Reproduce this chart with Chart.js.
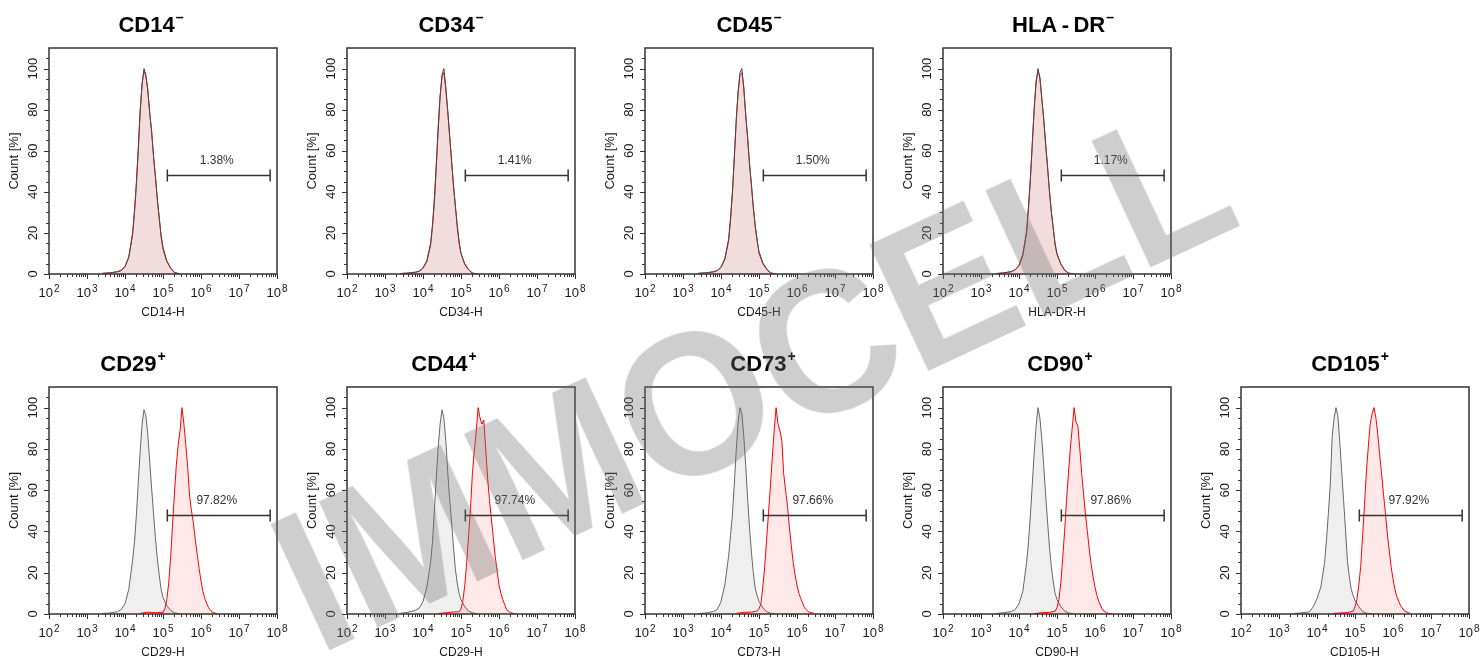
<!DOCTYPE html>
<html>
<head>
<meta charset="utf-8">
<script src="https://cdn.jsdelivr.net/npm/chart.js@4.4.0/dist/chart.umd.min.js"></script>
<style>
  html, body { margin: 0; padding: 0; background: #fff; }
  #wrap { position: relative; width: 1484px; height: 662px; overflow: hidden; }
  #wrap canvas { position: absolute; }
  #mark {
    position: absolute; left: 752px; top: 376px; z-index: 5;
    font: bold 202px "Liberation Sans", Arial, sans-serif; line-height: 1;
    color: rgba(110, 110, 110, 0.34); white-space: nowrap; pointer-events: none;
    transform: translate(-50%, -50%) rotate(-25deg) scaleX(0.95);
  }
</style>
</head>
<body>
<div id="wrap">
  <div id="mark">IMMOCELL</div>
</div>
<script>
// panel texts
var markerNames = ['CD14', 'CD34', 'CD45', 'HLA\u2009-\u2009DR', 'CD29', 'CD44', 'CD73', 'CD90', 'CD105'];
var markerSigns = ['\u2013', '\u2013', '\u2013', '\u2013', '+', '+', '+', '+', '+'];
var channelNames = ['CD14-H', 'CD34-H', 'CD45-H', 'HLA-DR-H', 'CD29-H', 'CD29-H', 'CD73-H', 'CD90-H', 'CD105-H'];
var gatePercents = ['1.38%', '1.41%', '1.50%', '1.17%', '97.82%', '97.74%', '97.66%', '97.86%', '97.92%'];

// gate marker (channel values) and its height in Count [%]
var gateFrom = 1.3e5, gateTo = 6.6e7, gateLevel = 48;

// tick labels
var xTickExponents = [2, 3, 4, 5, 6, 7, 8];
var yTickLabels = [0, 20, 40, 60, 80, 100];

// histogram bin positions, in decades (log10 of the channel)
var negDecades = [3.4, 3.6, 3.8, 3.9, 4.0, 4.1, 4.2, 4.25, 4.3, 4.35, 4.4, 4.45, 4.5, 4.55, 4.6, 4.65, 4.7, 4.75, 4.8, 4.85, 4.9, 4.95, 5.0, 5.1, 5.2, 5.3, 5.45];
var posDecades = [4.4, 4.6, 4.8, 4.95, 5.0, 5.05, 5.1, 5.15, 5.2, 5.25, 5.3, 5.35, 5.4, 5.45, 5.5, 5.55, 5.6, 5.65, 5.7, 5.75, 5.8, 5.85, 5.9, 5.95, 6.0, 6.05, 6.1, 6.2, 6.3, 6.45];

// control (gray) and stained (red) histograms, Count [%]
var ctlCD14 = [0.3, 0.6, 1.0, 1.6, 3.5, 8, 19, 30, 43, 60, 79, 92, 100, 97, 89, 79, 69, 58, 47, 37, 27, 19, 13, 6.5, 3, 0.8, 0];
var smpCD14 = [0.3, 0.5, 1.2, 1.8, 3.8, 8.5, 20, 31, 45, 62, 80, 93, 99, 96, 90, 78, 70, 57, 48, 36, 28, 18, 12, 6, 2.8, 0.6, 0];
var ctlCD34 = [0.2, 0.5, 0.8, 1.3, 2.8, 6, 14, 23, 35, 52, 70, 86, 97, 100, 91, 80, 68, 55, 44, 33, 24, 16, 10, 5, 2.2, 0.5, 0];
var smpCD34 = [0.2, 0.4, 0.9, 1.4, 3, 6.5, 15, 24, 37, 54, 72, 87, 96, 98, 90, 79, 67, 56, 43, 34, 23, 15, 10, 4.5, 2, 0.4, 0];
var ctlCD45 = [0.3, 0.6, 1, 1.6, 3.2, 7, 16, 26, 39, 56, 74, 89, 98, 100, 90, 78, 66, 54, 43, 33, 24, 16, 11, 5.5, 2.5, 0.6, 0];
var smpCD45 = [0.3, 0.5, 1.1, 1.7, 3.4, 7.5, 17, 27, 40, 57, 75, 88, 97, 98, 91, 77, 67, 53, 44, 32, 23, 17, 10, 5, 2.3, 0.5, 0];
var ctlHLA = [0.2, 0.5, 1.2, 2, 4, 9, 20, 32, 46, 63, 80, 93, 100, 95, 86, 75, 64, 52, 41, 31, 22, 15, 10, 5, 2, 0.5, 0];
var smpHLA = [0.2, 0.6, 1.1, 2.1, 4.2, 9.5, 21, 33, 47, 64, 81, 94, 99, 96, 85, 76, 63, 53, 40, 30, 23, 14, 9.5, 4.8, 1.8, 0.4, 0];

var ctlCD29 = [0.2, 0.5, 1.1, 2.2, 5, 12, 26, 35, 48, 64, 79, 92, 99, 96, 87, 74, 61, 49, 37, 27, 19, 12, 8, 4, 1.8, 0.6, 0];
var smpCD29 = [0.3, 0.9, 0.6, 0.8, 0.8, 2.5, 7, 15, 27, 43, 58, 72, 82, 89, 100, 92, 82, 71, 57, 50, 44, 36, 29, 22, 16, 11, 7.5, 3, 0.8, 0];
var ctlCD44 = [0.3, 0.8, 1.8, 2.8, 6, 13, 25, 35, 50, 66, 81, 92, 99, 95, 84, 69, 56, 45, 33, 22, 15, 10, 7, 3.5, 1.4, 0.6, 0];
var smpCD44 = [0.2, 0.6, 1, 1.1, 2.5, 6.5, 14, 25, 38, 51, 68, 79, 88, 100, 95, 92, 94, 80, 66, 55, 46, 37, 28, 21, 14, 10, 7, 2, 0.7, 0];
var ctlCD73 = [0.2, 0.5, 1.2, 2.1, 6, 14, 28, 38, 48, 63, 79, 93, 100, 97, 86, 72, 56, 42, 30, 20, 12.5, 9, 6, 3, 1.1, 0.4, 0];
var smpCD73 = [0.3, 0.8, 0.9, 1.5, 2.5, 5, 13, 23, 36, 49, 62, 76, 89, 100, 92, 89, 84, 68, 60, 52, 42, 33, 25, 19, 14, 10, 7.5, 3, 1, 0.3];
var ctlCD90 = [0.2, 0.6, 1.2, 2.2, 5, 11, 25, 35, 48, 63, 78, 91, 100, 95, 85, 72, 58, 45, 33, 23, 16, 10, 7, 3.5, 1.5, 0.5, 0];
var smpCD90 = [0.2, 0.6, 0.8, 1.4, 3, 7, 15, 27, 40, 55, 68, 80, 90, 100, 93, 91, 80, 68, 58, 48, 40, 31, 24, 18, 13, 9, 6, 2, 0.6, 0];
var ctlCD105 = [0.2, 0.6, 1, 3.5, 7.5, 13, 25, 36, 49, 63, 86, 95, 100, 96, 83, 69, 55, 41, 26, 18, 12, 9, 6.5, 3.5, 1.2, 0.4, 0];
var smpCD105 = [0.2, 0.5, 0.7, 1.4, 3.5, 7, 14, 23, 38, 53, 69, 81, 92, 97, 100, 95, 87, 77, 68, 58, 49, 39, 31, 23, 17, 12, 8.5, 4, 1.5, 0.3];

var controlSeries = [ctlCD14, ctlCD34, ctlCD45, ctlHLA, ctlCD29, ctlCD44, ctlCD73, ctlCD90, ctlCD105];
var sampleSeries = [smpCD14, smpCD34, smpCD45, smpHLA, smpCD29, smpCD44, smpCD73, smpCD90, smpCD105];

// layout: title centre shift from plot centre, px
var titleShift = [-12, -10, -10, 6, -30, -17, 4, 3, -5];

var FONT = '"Liberation Sans", Arial, sans-serif';

function toPoints(decades, counts) {
    return counts.map(function (c, i) { return { x: Math.pow(10, decades[i]), y: c }; });
}

var flowDecor = {
    id: 'flowDecor',
    afterDatasetsDraw: function (chart, args, o) {
        var ctx = chart.ctx, a = chart.chartArea;
        var xs = chart.scales.x, ys = chart.scales.y;
        ctx.save();

        // gate
        var gy = Math.round(ys.getPixelForValue(gateLevel)) + 0.5;
        var g1 = xs.getPixelForValue(gateFrom), g2 = xs.getPixelForValue(gateTo);
        ctx.strokeStyle = '#333'; ctx.lineWidth = 1.5;
        ctx.beginPath();
        ctx.moveTo(g1, gy); ctx.lineTo(g2, gy);
        ctx.moveTo(g1, gy - 6); ctx.lineTo(g1, gy + 6);
        ctx.moveTo(g2, gy - 6); ctx.lineTo(g2, gy + 6);
        ctx.stroke();
        ctx.fillStyle = '#333'; ctx.font = '12px ' + FONT;
        ctx.textAlign = 'center'; ctx.textBaseline = 'alphabetic';
        ctx.fillText(o.pct, (g1 + g2) / 2 - 2, gy - 12);

        // frame
        ctx.strokeStyle = '#333'; ctx.lineWidth = 1.5;
        ctx.strokeRect(a.left, a.top, a.right - a.left, a.bottom - a.top);

        // y ticks
        ctx.lineWidth = 1;
        for (var v = 0; v <= 105; v += 5) {
            var y = Math.round(ys.getPixelForValue(v)) + 0.5;
            var len = v % 20 === 0 ? 5 : 3;
            ctx.beginPath(); ctx.moveTo(a.left - len, y); ctx.lineTo(a.left, y); ctx.stroke();
        }
        // x ticks
        for (var d = 2; d <= 8; d++) {
            for (var m = 1; m <= 9; m++) {
                if (d === 8 && m > 1) break;
                var x = Math.round(xs.getPixelForValue(m * Math.pow(10, d))) + 0.5;
                var l = m === 1 ? 5 : 3;
                ctx.beginPath(); ctx.moveTo(x, a.bottom); ctx.lineTo(x, a.bottom + l); ctx.stroke();
            }
        }

        // y tick labels
        ctx.fillStyle = '#1a1a1a';
        ctx.font = '13px ' + FONT;
        yTickLabels.forEach(function (t) {
            ctx.save();
            ctx.translate(a.left - 16, ys.getPixelForValue(t));
            ctx.rotate(-Math.PI / 2);
            ctx.textAlign = 'center'; ctx.textBaseline = 'middle';
            ctx.fillText(String(t), 0, 0);
            ctx.restore();
        });

        // x tick labels 10^n
        ctx.textAlign = 'left'; ctx.textBaseline = 'alphabetic';
        xTickExponents.forEach(function (e) {
            var px = xs.getPixelForValue(Math.pow(10, e));
            ctx.font = '13px ' + FONT;
            var w1 = ctx.measureText('10').width;
            ctx.font = '10px ' + FONT;
            var w2 = ctx.measureText(String(e)).width;
            var sx = px - (w1 + w2 + 1) / 2;
            ctx.font = '13px ' + FONT;
            ctx.fillText('10', sx, a.bottom + 23);
            ctx.font = '10px ' + FONT;
            ctx.fillText(String(e), sx + w1 + 1, a.bottom + 18);
        });

        // axis titles
        ctx.font = '12px ' + FONT;
        ctx.textAlign = 'center';
        ctx.fillText(o.channel, (a.left + a.right) / 2, a.bottom + 42);
        ctx.save();
        ctx.translate(a.left - 35, (a.top + a.bottom) / 2);
        ctx.rotate(-Math.PI / 2);
        ctx.font = '13px ' + FONT;
        ctx.textBaseline = 'middle';
        ctx.fillText('Count [%]', 0, 0);
        ctx.restore();

        // panel title
        ctx.fillStyle = '#000';
        ctx.font = 'bold 22px ' + FONT;
        var tw = ctx.measureText(o.title).width;
        ctx.font = 'bold 14px ' + FONT;
        var sw = ctx.measureText(o.sign).width;
        var tx = (a.left + a.right) / 2 + o.shift - (tw + 1 + sw) / 2;
        var base = a.top - 16;
        ctx.textAlign = 'left';
        ctx.font = 'bold 22px ' + FONT;
        ctx.textBaseline = 'alphabetic';
        ctx.fillText(o.title, tx, base);
        ctx.font = 'bold 14px ' + FONT;
        ctx.textBaseline = 'middle';
        ctx.fillText(o.sign, tx + tw + 1, base - 14);

        ctx.restore();
    }
};

var wrap = document.getElementById('wrap');
var mark = document.getElementById('mark');

for (var i = 0; i < 9; i++) {
    var row = i < 4 ? 0 : 1;
    var col = row === 0 ? i : i - 4;
    var canvas = document.createElement('canvas');
    canvas.width = 292; canvas.height = 331;
    canvas.style.left = (298 * col) + 'px';
    canvas.style.top = (331 * row) + 'px';
    wrap.insertBefore(canvas, mark);

    var negative = row === 0;
    var ctlData = toPoints(negDecades, controlSeries[i]);
    var smpData = toPoints(negative ? negDecades : posDecades, sampleSeries[i]);

    var grayDs = {
        label: 'control', data: ctlData,
        borderColor: negative ? '#4a4a4a' : '#666', borderWidth: 1,
        backgroundColor: negative ? 'rgba(120,120,120,0.10)' : 'rgba(150,150,150,0.15)',
        fill: 'origin', pointRadius: 0, tension: 0
    };
    var redDs = {
        label: 'sample', data: smpData,
        borderColor: '#ff0000', borderWidth: 1,
        backgroundColor: 'rgba(255,0,0,0.09)',
        fill: 'origin', pointRadius: 0, tension: 0
    };

    new Chart(canvas.getContext('2d'), {
        type: 'line',
        data: { datasets: negative ? [grayDs, redDs] : [redDs, grayDs] },
        options: {
            responsive: false,
            animation: false,
            devicePixelRatio: 1,
            layout: {
                padding: row === 0 ? { left: 49, right: 15, top: 48, bottom: 57 }
                                   : { left: 49, right: 15, top: 56, bottom: 48 }
            },
            scales: {
                x: { type: 'logarithmic', min: 1e2, max: 1e8, display: false },
                y: { type: 'linear', min: 0, max: 110, display: false }
            },
            plugins: {
                legend: { display: false },
                tooltip: { enabled: false },
                flowDecor: {
                    title: markerNames[i], sign: markerSigns[i], channel: channelNames[i],
                    pct: gatePercents[i], shift: titleShift[i]
                }
            }
        },
        plugins: [flowDecor]
    });
}
</script>
</body>
</html>
